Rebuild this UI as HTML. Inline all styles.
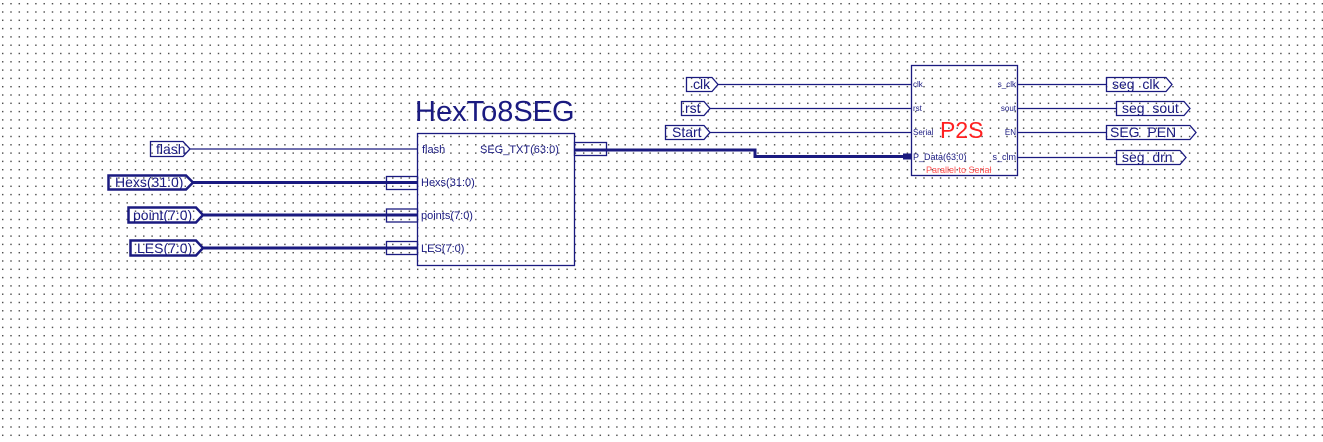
<!DOCTYPE html>
<html><head><style>
body{margin:0;background:#fff;}
svg{display:block}
text{font-family:"Liberation Sans",sans-serif;}
</style></head><body>
<svg width="1323" height="442" xmlns="http://www.w3.org/2000/svg">
<defs>
<pattern id="g" width="8.3" height="8.3" patternUnits="userSpaceOnUse" x="1" y="2">
<rect x="1" y="1" width="1.4" height="1.4" fill="#444"/>
</pattern>
</defs>
<rect width="1323" height="442" fill="url(#g)"/>
<g stroke="#1a1a80" fill="none">
<rect x="417.5" y="133.5" width="157" height="132" fill="none" stroke-width="1.3"/>
<path d="M150.5,141.5 H183 L190,149 L183,156.5 H150.5 Z" stroke-width="1.3"/>
<line x1="190" y1="149" x2="417" y2="149" stroke-width="1.3"/>
<path d="M108.5,175.5 H186 L193,182.5 L186,189.5 H108.5 Z" stroke-width="2.5"/>
<line x1="193" y1="182.5" x2="417" y2="182.5" stroke-width="3"/>
<rect x="386.5" y="176.5" width="31" height="13" stroke-width="1.3"/>
<path d="M128.5,207.5 H196 L203,215 L196,222.5 H128.5 Z" stroke-width="2.5"/>
<line x1="203" y1="215" x2="417" y2="215" stroke-width="3"/>
<rect x="386.5" y="209" width="31" height="13" stroke-width="1.3"/>
<path d="M130.5,240.5 H196 L203,248 L196,255.5 H130.5 Z" stroke-width="2.5"/>
<line x1="203" y1="248" x2="417" y2="248" stroke-width="3"/>
<rect x="386.5" y="241.5" width="31" height="13" stroke-width="1.3"/>
<rect x="574.5" y="142.5" width="32" height="13" stroke-width="1.3"/>
<polyline points="574,150 755,150 755,156.5 911,156.5" stroke-width="3"/>
<rect x="903" y="153.5" width="8" height="6" fill="#1a1a80" stroke="none"/>
<rect x="911.5" y="65.5" width="106" height="110" stroke-width="1.3"/>
<path d="M686.5,77.5 H712 L718,84.5 L712,91.5 H686.5 Z" stroke-width="1.3"/>
<line x1="718" y1="84.5" x2="911" y2="84.5" stroke-width="1.3"/>
<path d="M681.5,101.5 H704 L710,108.5 L704,115.5 H681.5 Z" stroke-width="1.3"/>
<line x1="710" y1="108.5" x2="911" y2="108.5" stroke-width="1.3"/>
<path d="M665.5,125.5 H704 L710,132.5 L704,139.5 H665.5 Z" stroke-width="1.3"/>
<line x1="710" y1="132.5" x2="911" y2="132.5" stroke-width="1.3"/>
<line x1="1018" y1="84.5" x2="1106" y2="84.5" stroke-width="1.3"/>
<path d="M1106.5,77.5 H1166 L1172,84.5 L1166,91.5 H1106.5 Z" stroke-width="1.3"/>
<line x1="1018" y1="108.5" x2="1116" y2="108.5" stroke-width="1.3"/>
<path d="M1116.5,101.5 H1184 L1190,108.5 L1184,115.5 H1116.5 Z" stroke-width="1.3"/>
<line x1="1018" y1="132.5" x2="1106" y2="132.5" stroke-width="1.3"/>
<path d="M1106.5,125.5 H1190 L1196,132.5 L1190,139.5 H1106.5 Z" stroke-width="1.3"/>
<line x1="1018" y1="157.5" x2="1116" y2="157.5" stroke-width="1.3"/>
<path d="M1116.5,150.5 H1180 L1186,157.5 L1180,164.5 H1116.5 Z" stroke-width="1.3"/>
</g>
<g fill="#1a1a80">
<text x="415" y="121" font-size="29">HexTo8SEG</text>
<text x="156" y="154" font-size="14">flash</text>
<text x="115" y="187" font-size="14">Hexs(31:0)</text>
<text x="133" y="220" font-size="14">point(7:0)</text>
<text x="137" y="253" font-size="14">LES(7:0)</text>
<text x="422" y="153" font-size="11">flash</text>
<text x="480" y="153" font-size="11">SEG_TXT(63:0)</text>
<text x="421" y="186" font-size="11">Hexs(31:0)</text>
<text x="421" y="219" font-size="11">points(7:0)</text>
<text x="421" y="252" font-size="11">LES(7:0)</text>
<text x="693" y="89" font-size="14">clk</text>
<text x="685" y="113" font-size="14">rst</text>
<text x="672" y="137" font-size="14">Start</text>
<text x="913" y="87" font-size="8">clk</text>
<text x="913" y="111" font-size="8">rst</text>
<text x="913" y="135" font-size="8">Serial</text>
<text x="913" y="160" font-size="9">P_Data(63:0)</text>
<text x="1016" y="87" font-size="8" text-anchor="end">s_clk</text>
<text x="1016" y="111" font-size="8" text-anchor="end">sout</text>
<text x="1016" y="135" font-size="8" text-anchor="end">EN</text>
<text x="1016" y="160" font-size="9" text-anchor="end">s_clm</text>
<text x="1112" y="89" font-size="14">seg_clk</text>
<text x="1122" y="113" font-size="14">seg_sout</text>
<text x="1110" y="137" font-size="14">SEG_PEN</text>
<text x="1122" y="162" font-size="14">seg_drn</text>
</g>
<text x="940" y="138" font-size="23" fill="#ff2020">P2S</text>
<text x="926" y="173" font-size="9" fill="#ff5050">Parallel to Serial</text>
</svg>
</body></html>
